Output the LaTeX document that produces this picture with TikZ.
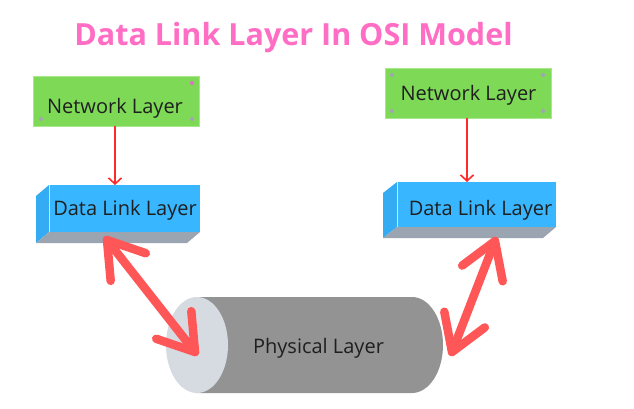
\documentclass[tikz,border=0pt]{standalone}
\usepackage{fontspec}
\setmainfont{Open Sans}
\usetikzlibrary{shapes.geometric,calc,arrows.meta}
\definecolor{titlepink}{HTML}{FF6EC4}
\definecolor{netgreen}{HTML}{7ED957}
\definecolor{netedge}{HTML}{A8E88C}
\definecolor{dllblue}{HTML}{38B6FF}
\definecolor{dllside}{HTML}{34ACF4}
\definecolor{dllbottom}{HTML}{9AA5B1}
\definecolor{cylbody}{HTML}{939393}
\definecolor{cylend}{HTML}{D6DBE1}
\definecolor{bigred}{HTML}{FF5757}
\definecolor{thinred}{HTML}{FF2A2A}
\definecolor{handle}{HTML}{A3A3B8}
\definecolor{handlepink}{HTML}{E070C0}
\tikzset{
  netbox/.style={fill=netgreen, draw=netedge, line width=0.8pt, minimum width=166pt, minimum height=50pt, inner sep=0pt},
  frontface/.style={fill=dllblue, draw=none, inner sep=0pt},
  lbl/.style={font=\fontsize{20}{24}\selectfont, text=black!88, anchor=base, inner sep=0pt},
  thinarrow/.style={thinred, line width=1.6pt, -{Straight Barb[length=6pt,width=13pt]}},
  bigarrow/.style={bigred, line width=8.5pt, line cap=round, line join=round},
  handledot/.style={circle, fill=handle, inner sep=0pt, minimum size=4pt},
}
\begin{document}
\begin{tikzpicture}[x=1pt, y=-1pt]
\useasboundingbox[fill=white] (0,0) rectangle (634,408);

% title
\node[font=\fontsize{30.5}{36}\selectfont\bfseries, text=titlepink, anchor=base, inner sep=0pt] (title) at (293.5,45) {Data Link Layer In OSI Model};

% network layer boxes
\node[netbox] (net1) at (116,101) {};
\node[lbl] (net1t) at (115,113) {Network Layer};
\node[netbox] (net2) at (468,93) {};
\node[lbl] (net2t) at (468.5,100) {Network Layer};

% handles
\node[handledot] (h1) at (41,119) {};
\node[handledot] (h2) at (192,119) {};
\node[handledot, fill=handlepink] (h3) at (192,83) {};
\node[handledot] (h4) at (392,75) {};
\node[handledot] (h5) at (543,75) {};
\node[handledot] (h6) at (392,111) {};
\node[handledot] (h7) at (543,111) {};

% data link layer 3D boxes
\fill[dllside] (36,196) -- (49,185) -- (49,232) -- (36,243) -- cycle;
\fill[dllbottom] (49,232) -- (200,232) -- (187,243) -- (36,243) -- cycle;
\node[frontface, minimum width=151pt, minimum height=47pt] (dll1) at (124.5,208.5) {};
\draw[white!70!dllblue, line width=0.6pt] (49,185) -- (49,232);
\node[lbl] (dll1t) at (125,215) {Data Link Layer};

\fill[dllside] (383,193) -- (397,182) -- (397,227) -- (383,238) -- cycle;
\fill[dllbottom] (397,227) -- (556,227) -- (543,238) -- (383,238) -- cycle;
\node[frontface, minimum width=159pt, minimum height=45pt] (dll2) at (476.5,204.5) {};
\draw[white!70!dllblue, line width=0.6pt] (397,182) -- (397,227);
\node[lbl] (dll2t) at (480.5,215) {Data Link Layer};

% thin arrows
\draw[thinarrow] (net1.south -| 115,0) -- (115,185);
\draw[thinarrow] (net2.south -| 467,0) -- (467,182);

% cylinder
\fill[cylbody] (197,297) -- (412,297) arc[start angle=-90, end angle=90, x radius=31, y radius=48] -- (197,393) -- cycle;
\node[ellipse, fill=cylend, minimum width=62pt, minimum height=96pt, inner sep=0pt] (phys) at (197,345) {};
\node[lbl] (physt) at (318.5,353) {Physical Layer};

% big double arrows
\coordinate (a1) at (107,240);
\coordinate (b1) at (195,352);
\coordinate (a2) at (495,241);
\coordinate (b2) at (452,352);
\draw[bigarrow] (a1) -- (b1);
\draw[bigarrow] ($(a1)!41pt!33:(b1)$) -- (a1) -- ($(a1)!41pt!-33:(b1)$);
\draw[bigarrow] ($(b1)!41pt!33:(a1)$) -- (b1) -- ($(b1)!41pt!-33:(a1)$);
\draw[bigarrow] (a2) -- (b2);
\draw[bigarrow] ($(a2)!41pt!32:(b2)$) -- (a2) -- ($(a2)!41pt!-32:(b2)$);
\draw[bigarrow] ($(b2)!41pt!32:(a2)$) -- (b2) -- ($(b2)!41pt!-32:(a2)$);
\end{tikzpicture}
\end{document}
